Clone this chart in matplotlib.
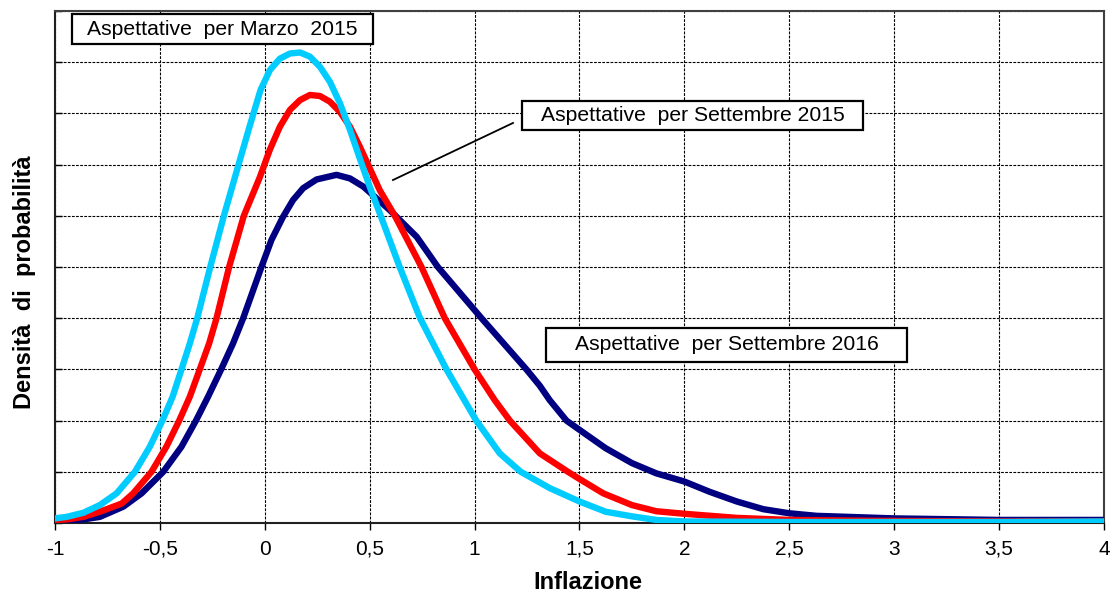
import matplotlib.pyplot as plt
from matplotlib.patches import Rectangle

plt.rcParams['font.family'] = ['Liberation Sans', 'DejaVu Sans']

# Valori (densità in unità di griglia)
x_mar15 = [-1.0, -0.944, -0.865, -0.786, -0.706, -0.619, -0.548, -0.488, -0.439, -0.397,
           -0.357, -0.322, -0.26, -0.195, -0.125, -0.075, -0.02, 0.025, 0.072, 0.12,
           0.168, 0.215, 0.263, 0.31, 0.358, 0.406, 0.453, 0.5, 0.548, 0.643,
           0.74, 0.866, 1.008, 1.12, 1.22, 1.359, 1.5, 1.625, 1.75, 1.866,
           2.0, 2.5, 3.0, 3.5, 4.0]
y_mar15 = [0.09, 0.12, 0.2, 0.35, 0.58, 1.0, 1.49, 2.0, 2.47, 3.0,
           3.51, 4.0, 5.0, 6.0, 7.0, 7.71, 8.46, 8.85, 9.07, 9.17,
           9.19, 9.11, 8.91, 8.62, 8.2, 7.68, 7.12, 6.57, 6.05, 5.0,
           4.0, 3.0, 2.0, 1.36, 1.0, 0.68, 0.42, 0.22, 0.13, 0.06,
           0.03, 0.02, 0.02, 0.02, 0.03]

x_set15 = [-1.0, -0.944, -0.865, -0.786, -0.682, -0.627, -0.54, -0.469, -0.408, -0.357,
           -0.31, -0.265, -0.23, -0.17, -0.1, -0.024, 0.024, 0.072, 0.12, 0.168,
           0.215, 0.263, 0.31, 0.358, 0.406, 0.453, 0.5, 0.548, 0.62, 0.747,
           0.858, 1.0, 1.096, 1.168, 1.311, 1.445, 1.5, 1.613, 1.75, 1.866,
           2.0, 2.25, 2.5, 3.0, 3.5, 4.0]
y_set15 = [0.06, 0.07, 0.12, 0.22, 0.38, 0.58, 1.0, 1.49, 2.0, 2.47,
           3.0, 3.51, 4.0, 5.0, 6.0, 6.75, 7.29, 7.74, 8.07, 8.26,
           8.36, 8.34, 8.23, 8.03, 7.74, 7.35, 6.93, 6.5, 6.0, 5.0,
           4.0, 3.0, 2.4, 2.0, 1.36, 1.0, 0.86, 0.58, 0.35, 0.23,
           0.18, 0.1, 0.06, 0.04, 0.03, 0.03]

x_set16 = [-1.0, -0.944, -0.865, -0.786, -0.674, -0.587, -0.484, -0.397, -0.328, -0.27,
           -0.208, -0.151, -0.103, -0.016, 0.032, 0.087, 0.135, 0.183, 0.247, 0.342,
           0.406, 0.47, 0.533, 0.596, 0.66, 0.724, 0.825, 1.033, 1.247, 1.311,
           1.358, 1.438, 1.5, 1.625, 1.75, 1.866, 2.0, 2.12, 2.25, 2.376,
           2.5, 2.63, 3.0, 3.5, 4.0]
y_set16 = [0.03, 0.04, 0.07, 0.12, 0.32, 0.58, 1.0, 1.49, 2.0, 2.47,
           3.0, 3.51, 4.0, 5.0, 5.53, 5.98, 6.31, 6.54, 6.71, 6.8,
           6.73, 6.57, 6.34, 6.11, 5.85, 5.59, 5.0, 4.0, 3.0, 2.68,
           2.4, 2.0, 1.82, 1.46, 1.17, 0.97, 0.81, 0.61, 0.42, 0.27,
           0.19, 0.14, 0.09, 0.06, 0.06]

x_ticks = [-1, -0.5, 0, 0.5, 1, 1.5, 2, 2.5, 3, 3.5, 4]
x_tick_labels = ['-1', '-0,5', '0', '0,5', '1', '1,5', '2', '2,5', '3', '3,5', '4']
y_ticks = list(range(0, 11))

fig = plt.figure(figsize=(11.13, 5.95), dpi=100)
ax = fig.add_axes([0.0494, 0.121, 0.9425, 0.8605])

ax.plot(x_set16, y_set16, color='#000080', lw=4.6, solid_capstyle='round',
        solid_joinstyle='round', zorder=3)
ax.plot(x_set15, y_set15, color='#FF0000', lw=4.6, solid_capstyle='round',
        solid_joinstyle='round', zorder=4)
ax.plot(x_mar15, y_mar15, color='#00CCFF', lw=4.6, solid_capstyle='round',
        solid_joinstyle='round', zorder=5)

ax.set_xlim(-1, 4)
ax.set_ylim(0, 10)
ax.set_xticks(x_ticks)
ax.set_xticklabels(x_tick_labels, fontsize=15)
ax.set_yticks(y_ticks)
ax.set_yticklabels([])
ax.tick_params(axis='x', direction='out', length=5, width=1, pad=7)
ax.tick_params(axis='y', direction='in', length=5, width=1)
ax.grid(True, color='black', linestyle=(0, (2.5, 1.2)), linewidth=0.8, zorder=1)
ax.set_axisbelow(True)

for side in ['top', 'right']:
    ax.spines[side].set_color('#404040')
    ax.spines[side].set_linewidth(1.5)
for side in ['left', 'bottom']:
    ax.spines[side].set_color('#202020')
    ax.spines[side].set_linewidth(1.5)

ax.set_xlabel('Inflazione', fontsize=17, fontweight='bold', va='center')
ax.xaxis.set_label_coords(0.508, -0.117)
ax.set_ylabel('Densità  di  probabilità', fontsize=17, fontweight='bold', va='center')
ax.yaxis.set_label_coords(-0.0286, 0.47)

# riquadri con le etichette
boxes = [
    ('Aspettative  per Marzo  2015', 0.0162, 0.9355, 0.3031, 0.9941),
    ('Aspettative  per Settembre 2015', 0.4452, 0.7676, 0.7703, 0.8242),
    ('Aspettative  per Settembre 2016', 0.4681, 0.3145, 0.8122, 0.3809),
]
for txt, x0, y0, x1, y1 in boxes:
    ax.add_patch(Rectangle((x0, y0), x1 - x0, y1 - y0, transform=ax.transAxes,
                           facecolor='white', edgecolor='black', lw=1.6, zorder=6))
    ax.text((x0 + x1) / 2, (y0 + y1) / 2, txt, transform=ax.transAxes,
            ha='center', va='center', fontsize=15.2, zorder=7)

ax.plot([0.4366, 0.3222], [0.7813, 0.6699], transform=ax.transAxes,
        color='black', lw=1.3, zorder=6)

fig.savefig('out.png', dpi=100)
